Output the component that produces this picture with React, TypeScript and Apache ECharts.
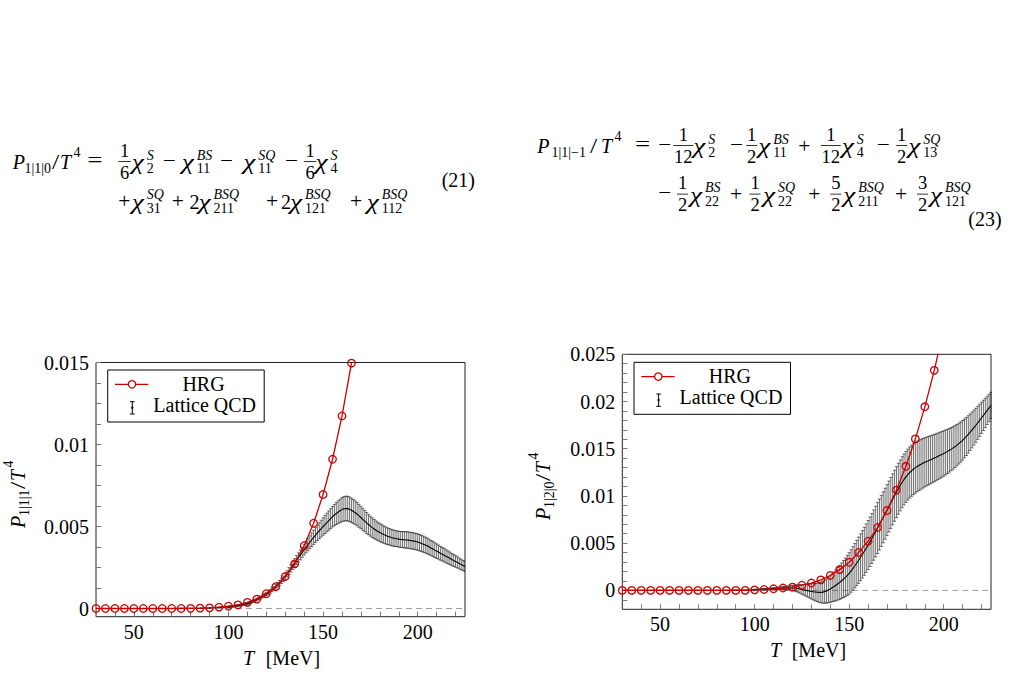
import React, { useEffect, useRef } from 'react';
import * as echarts from 'echarts';

// ---------- data (values of P/T^4 in units of 1e-3) ----------
const tHrgLeft = [30, 35, 40, 45, 50, 55, 60, 65, 70, 75, 80, 85, 90, 95, 100, 105, 110, 115, 120, 125, 130, 135, 140, 145, 150, 155, 160, 165];
const hrgLeft = [0, 0, 0, 0, 0, 0, 0, 0, 0, 0, 0.01, 0.02, 0.04, 0.08, 0.14, 0.22, 0.37, 0.57, 0.9, 1.33, 1.95, 2.72, 3.83, 5.2, 6.95, 9.1, 11.74, 14.96];

const tHrgRight = [30, 35, 40, 45, 50, 55, 60, 65, 70, 75, 80, 85, 90, 95, 100, 105, 110, 115, 120, 125, 130, 135, 140, 145, 150, 155, 160, 165, 170, 175, 180, 185, 190, 195, 200];
const hrgRight = [0, 0, 0, 0, 0, 0, 0, 0, 0, 0, 0, 0, 0, 0, 0.06, 0.1, 0.17, 0.25, 0.35, 0.55, 0.78, 1.12, 1.58, 2.2, 2.98, 4.02, 5.21, 6.66, 8.46, 10.62, 13.14, 16.04, 19.44, 23.3, 27.7];

const tLatticeLow = [30, 35, 40, 45, 50, 55, 60, 65, 70, 75, 80, 85, 90, 95];
const latticeLowLeft = [0, 0, 0, 0, 0, 0, 0, 0, 0, 0.01, 0.01, 0.02, 0.04, 0.07];
const latticeLowRight = [0, 0, 0, 0, 0, 0, 0, 0, 0, 0, 0, 0.01, 0.03, 0.05];

const tLattice = [100, 101, 102, 103, 104, 105, 106, 107, 108, 109, 110, 111, 112, 113, 114, 115, 116, 117, 118, 119, 120, 121, 122, 123, 124, 125, 126, 127, 128, 129, 130, 131, 132, 133, 134, 135, 136, 137, 138, 139, 140, 141, 142, 143, 144, 145, 146, 147, 148, 149, 150, 151, 152, 153, 154, 155, 156, 157, 158, 159, 160, 161, 162, 163, 164, 165, 166, 167, 168, 169, 170, 171, 172, 173, 174, 175, 176, 177, 178, 179, 180, 181, 182, 183, 184, 185, 186, 187, 188, 189, 190, 191, 192, 193, 194, 195, 196, 197, 198, 199, 200, 201, 202, 203, 204, 205, 206, 207, 208, 209, 210, 211, 212, 213, 214, 215, 216, 217, 218, 219, 220, 221, 222, 223, 224, 225];

const latticeLeft = [
  0.10, 0.11, 0.12, 0.14, 0.16, 0.18, 0.20, 0.22, 0.25, 0.27,
  0.30, 0.34, 0.39, 0.44, 0.49, 0.55, 0.61, 0.67, 0.74, 0.81,
  0.88, 0.96, 1.05, 1.14, 1.23, 1.33, 1.44, 1.56, 1.68, 1.81,
  1.94, 2.11, 2.28, 2.45, 2.62, 2.79, 2.95, 3.11, 3.27, 3.43,
  3.59, 3.74, 3.89, 4.04, 4.19, 4.34, 4.48, 4.61, 4.74, 4.87,
  5.00, 5.12, 5.24, 5.36, 5.48, 5.60, 5.70, 5.79, 5.88, 5.96,
  6.03, 6.08, 6.10, 6.09, 6.05, 5.99, 5.92, 5.84, 5.75, 5.65,
  5.55, 5.44, 5.33, 5.22, 5.12, 5.02, 4.93, 4.85, 4.77, 4.70,
  4.63, 4.57, 4.51, 4.46, 4.41, 4.37, 4.33, 4.30, 4.27, 4.25,
  4.23, 4.21, 4.20, 4.19, 4.18, 4.17, 4.15, 4.13, 4.11, 4.08,
  4.05, 4.01, 3.97, 3.92, 3.87, 3.82, 3.76, 3.69, 3.63, 3.56,
  3.50, 3.44, 3.37, 3.31, 3.25, 3.18, 3.12, 3.06, 2.99, 2.93,
  2.87, 2.81, 2.74, 2.68, 2.62, 2.56,
];
const errLeft = [
  0.04, 0.04, 0.04, 0.04, 0.05, 0.05, 0.05, 0.05, 0.05, 0.06,
  0.06, 0.06, 0.07, 0.07, 0.08, 0.08, 0.08, 0.09, 0.09, 0.10,
  0.10, 0.11, 0.11, 0.12, 0.12, 0.13, 0.14, 0.15, 0.16, 0.17,
  0.18, 0.19, 0.21, 0.22, 0.24, 0.25, 0.27, 0.28, 0.30, 0.31,
  0.33, 0.35, 0.37, 0.39, 0.41, 0.43, 0.45, 0.47, 0.49, 0.51,
  0.53, 0.55, 0.57, 0.59, 0.61, 0.63, 0.65, 0.67, 0.69, 0.71,
  0.73, 0.74, 0.75, 0.75, 0.75, 0.74, 0.73, 0.72, 0.71, 0.70,
  0.68, 0.67, 0.65, 0.64, 0.62, 0.61, 0.60, 0.58, 0.57, 0.56,
  0.55, 0.54, 0.53, 0.52, 0.51, 0.50, 0.50, 0.49, 0.49, 0.48,
  0.48, 0.48, 0.49, 0.49, 0.50, 0.50, 0.50, 0.50, 0.50, 0.50,
  0.50, 0.50, 0.49, 0.49, 0.48, 0.48, 0.47, 0.46, 0.46, 0.45,
  0.44, 0.43, 0.42, 0.41, 0.41, 0.40, 0.39, 0.38, 0.37, 0.36,
  0.35, 0.34, 0.33, 0.32, 0.31, 0.30,
];
const latticeRight = [
  0.08, 0.09, 0.09, 0.10, 0.11, 0.12, 0.13, 0.14, 0.15, 0.17,
  0.18, 0.19, 0.21, 0.22, 0.23, 0.24, 0.25, 0.26, 0.26, 0.26,
  0.26, 0.25, 0.23, 0.20, 0.15, 0.10, 0.06, 0.02, -0.02, -0.06,
  -0.10, -0.14, -0.17, -0.20, -0.21, -0.21, -0.18, -0.13, -0.06, 0.04,
  0.15, 0.28, 0.41, 0.55, 0.70, 0.85, 1.02, 1.20, 1.39, 1.59,
  1.80, 2.06, 2.33, 2.61, 2.90, 3.20, 3.51, 3.82, 4.14, 4.47,
  4.80, 5.15, 5.50, 5.86, 6.23, 6.60, 6.98, 7.36, 7.74, 8.12,
  8.50, 8.88, 9.26, 9.64, 10.02, 10.40, 10.77, 11.12, 11.45, 11.75,
  12.02, 12.26, 12.48, 12.67, 12.84, 13.00, 13.13, 13.25, 13.36, 13.46,
  13.56, 13.65, 13.74, 13.83, 13.92, 14.01, 14.10, 14.20, 14.30, 14.40,
  14.50, 14.61, 14.72, 14.84, 14.96, 15.09, 15.23, 15.38, 15.54, 15.71,
  15.89, 16.09, 16.30, 16.52, 16.75, 16.99, 17.24, 17.49, 17.75, 18.01,
  18.28, 18.54, 18.80, 19.06, 19.32, 19.58,
];
const errRight = [
  0.05, 0.05, 0.06, 0.06, 0.07, 0.07, 0.08, 0.08, 0.09, 0.09,
  0.10, 0.11, 0.12, 0.13, 0.14, 0.15, 0.17, 0.19, 0.21, 0.23,
  0.25, 0.30, 0.35, 0.40, 0.45, 0.50, 0.56, 0.62, 0.68, 0.74,
  0.80, 0.86, 0.92, 0.98, 1.04, 1.10, 1.16, 1.22, 1.28, 1.34,
  1.40, 1.48, 1.56, 1.64, 1.72, 1.80, 1.88, 1.96, 2.04, 2.12,
  2.20, 2.25, 2.30, 2.35, 2.40, 2.45, 2.48, 2.51, 2.54, 2.57,
  2.60, 2.62, 2.64, 2.66, 2.68, 2.70, 2.70, 2.70, 2.70, 2.70,
  2.70, 2.70, 2.70, 2.70, 2.70, 2.70, 2.70, 2.70, 2.70, 2.70,
  2.70, 2.70, 2.70, 2.70, 2.70, 2.70, 2.68, 2.66, 2.64, 2.62,
  2.60, 2.58, 2.56, 2.54, 2.52, 2.50, 2.48, 2.46, 2.44, 2.42,
  2.40, 2.37, 2.34, 2.31, 2.28, 2.25, 2.22, 2.19, 2.16, 2.13,
  2.10, 2.06, 2.02, 1.98, 1.94, 1.90, 1.85, 1.80, 1.75, 1.70,
  1.65, 1.60, 1.55, 1.50, 1.45, 1.40,
];

// ---------- ticks ----------
const xTicks = [40, 50, 60, 70, 80, 90, 100, 110, 120, 130, 140, 150, 160, 170, 180, 190, 200, 210, 220];
const xLabels = [50, 100, 150, 200];
const yTicksLeft = [0, 0.00125, 0.0025, 0.00375, 0.005, 0.00625, 0.0075, 0.00875, 0.01, 0.01125, 0.0125, 0.01375, 0.015];
const yLabelsLeft = [0, 0.005, 0.01, 0.015];
const yTicksRight = [-0.001, 0, 0.001, 0.002, 0.003, 0.004, 0.005, 0.006, 0.007, 0.008, 0.009, 0.01, 0.011, 0.012, 0.013, 0.014, 0.015, 0.016, 0.017, 0.018, 0.019, 0.02, 0.021, 0.022, 0.023, 0.024, 0.025];
const yLabelsRight = [0, 0.005, 0.01, 0.015, 0.02, 0.025];

// ---------- styling ----------
const RED = '#cc0000';
const FONT = 'Liberation Serif';
const K = 0.34;
const SCALE = 1e-3;

const pairs = (xs: number[], ys: number[]) => xs.map((x, i) => [x, ys[i] * SCALE]);
const triples = (xs: number[], ys: number[], es: number[]) => xs.map((x, i) => [x, ys[i] * SCALE, es[i] * SCALE]);

function tx(x: number, base: number, s: string, size = 20, italic = false, align: string = 'left', sx = 1): any {
  return {
    type: 'text', x, y: base - K * size, z: 100, scaleX: sx,
    style: {
      text: s, fontFamily: FONT, fontSize: size, fontStyle: italic ? 'italic' : 'normal', fill: '#000',
      align, verticalAlign: 'middle',
    },
  };
}
// math operators: slightly wider than the text font's glyphs
const op = (x: number, base: number, s: string) =>
  tx(x, base - (s === '+' ? 0 : 2), s, 20, false, 'left', s === '=' ? 1.35 : s === '−' ? 1.15 : 1.08);
const CHI_OFF = 15;
function chi(x: number, base: number, sub: string, sup: string): any[] {
  return [tx(x, base, 'χ', 21, true, 'left', 1.3), tx(x + CHI_OFF, base - 9, sup, 14, true), tx(x + CHI_OFF, base + 4.5, sub, 14)];
}
function frac(cx: number, base: number, num: string, den: string, w: number): any[] {
  return [
    tx(cx, base - 12, num, 18.5, false, 'center'),
    tx(cx, base + 10, den, 18.5, false, 'center'),
    { type: 'rect', z: 100, shape: { x: cx - w / 2, y: base - 7.8, width: w, height: 0.8 }, style: { fill: '#000' } },
  ];
}
function pBlock(x: number, base: number, sub: string, subX: number, slashX: number, tX: number): any[] {
  return [
    tx(x, base, 'P', 20, true), tx(subX, base + 4.5, sub, 14), tx(slashX, base, '/', 20, false, 'left', 1.3),
    tx(tX, base, 'T', 20, true), tx(tX + 13.5, base - 12, '4', 14),
  ];
}
function legend(ox: number, oy: number): any[] {
  const ebStyle = { stroke: '#000', lineWidth: 1 };
  return [
    { type: 'rect', z: 99, shape: { x: ox, y: oy, width: 156.5, height: 52 }, style: { fill: '#fff', stroke: '#000', lineWidth: 1 } },
    { type: 'line', z: 100, shape: { x1: ox + 7.3, y1: oy + 14.3, x2: ox + 40.6, y2: oy + 14.3 }, style: { stroke: RED, lineWidth: 1.3 } },
    { type: 'circle', z: 101, shape: { cx: ox + 24.3, cy: oy + 14.3, r: 3.7 }, style: { fill: '#fff', stroke: RED, lineWidth: 1.3 } },
    tx(ox + 95.8, oy + 20.7, 'HRG', 20, false, 'center'),
    { type: 'line', z: 100, shape: { x1: ox + 24.6, y1: oy + 31.7, x2: ox + 24.6, y2: oy + 44 }, style: ebStyle },
    { type: 'line', z: 100, shape: { x1: ox + 22.3, y1: oy + 31.7, x2: ox + 26.9, y2: oy + 31.7 }, style: ebStyle },
    { type: 'line', z: 100, shape: { x1: ox + 22.3, y1: oy + 44, x2: ox + 26.9, y2: oy + 44 }, style: ebStyle },
    { type: 'circle', z: 101, shape: { cx: ox + 24.6, cy: oy + 37.8, r: 1.2 }, style: { fill: '#000' } },
    tx(ox + 45.6, oy + 41.7, 'Lattice QCD'),
  ];
}

function buildGraphic(): any[] {
  const els: any[] = [];
  const add = (...a: any[]) => { a.forEach((e) => (Array.isArray(e) ? els.push(...e) : els.push(e))); };

  // equation (21)
  const a1 = 169, a2 = 208.5;
  add(pBlock(12.7, a1, '1|1|0', 24.5, 52, 60));
  add(op(87.3, a1, '='));
  add(frac(124.5, a1, '1', '6', 12.5), chi(131.7, a1, '2', 'S'));
  add(op(162.7, a1, '−'), chi(181.7, a1, '11', 'BS'));
  add(op(220, a1, '−'), chi(243.3, a1, '11', 'SQ'));
  add(op(285, a1, '−'), frac(310, a1, '1', '6', 12.5), chi(315.5, a1, '4', 'S'));
  add(op(118.3, a2, '+'), chi(131.7, a2, '31', 'SQ'));
  add(op(171.7, a2, '+'), tx(189.5, a2, '2'), chi(198.5, a2, '211', 'BSQ'));
  add(op(266, a2, '+'), tx(281, a2, '2'), chi(290, a2, '121', 'BSQ'));
  add(op(350, a2, '+'), chi(366.7, a2, '112', 'BSQ'));
  add(tx(441.7, 187, '(21)'));

  // equation (23)
  const b1 = 153, b2 = 201.5;
  add(pBlock(537.3, b1, '1|1|−1', 551.5, 590, 601));
  add(op(635, b1, '='), op(658.3, b1, '−'), frac(683.3, b1, '1', '12', 20), chi(693.3, b1, '2', 'S'));
  add(op(730, b1, '−'), frac(751.7, b1, '1', '2', 11), chi(758.3, b1, '11', 'BS'));
  add(op(798.3, b1, '+'), frac(830.8, b1, '1', '12', 20), chi(841.7, b1, '4', 'S'));
  add(op(876.7, b1, '−'), frac(901.7, b1, '1', '2', 11), chi(908.3, b1, '13', 'SQ'));
  add(op(658.3, b2, '−'), frac(682.5, b2, '1', '2', 11), chi(690, b2, '22', 'BS'));
  add(op(730, b2, '+'), frac(755, b2, '1', '2', 11), chi(763, b2, '22', 'SQ'));
  add(op(808.3, b2, '+'), frac(835.8, b2, '5', '2', 11), chi(843.3, b2, '211', 'BSQ'));
  add(op(895, b2, '+'), frac(922.5, b2, '3', '2', 11), chi(930, b2, '121', 'BSQ'));
  add(tx(968.3, 225.5, '(23)'));

  // legends
  add(legend(107.7, 370), legend(634, 362.3));

  // x-axis titles
  add(tx(243, 665, 'T', 20, true), tx(265.7, 665, '[MeV]'));
  add(tx(770, 656.7, 'T', 20, true), tx(791.7, 656.7, '[MeV]'));

  // y-axis titles (rotated)
  const yTitle = (x: number, y: number, sub: string) => ({
    type: 'group', x, y, rotation: Math.PI / 2, z: 100,
    children: pBlock(0, 0, sub, 12, 39, 47),
  });
  add(yTitle(25, 528, '1|1|1'), yTitle(550, 520, '1|2|0'));
  return els;
}

const fmtTick = (v: number) => String(parseFloat(Number(v).toFixed(5)));

function xAxisFor(gi: number): any {
  return {
    type: 'value', gridIndex: gi, min: 30, max: 225,
    axisLine: { show: false, onZero: false }, splitLine: { show: false },
    axisTick: { show: true, inside: true, length: 5, customValues: xTicks, lineStyle: { color: '#777', width: 1 } },
    axisLabel: { customValues: xLabels, margin: 5, fontFamily: FONT, fontSize: 20, color: '#000', formatter: fmtTick },
  };
}
function yAxisFor(gi: number, min: number, max: number, ticks: number[], labels: number[]): any {
  return {
    type: 'value', gridIndex: gi, min, max,
    axisLine: { show: false, onZero: false }, splitLine: { show: false },
    axisTick: { show: true, inside: true, length: 5, customValues: ticks, lineStyle: { color: '#777', width: 1 } },
    axisLabel: { customValues: labels, margin: 7, fontFamily: FONT, fontSize: 20, color: '#000', formatter: fmtTick },
  };
}

function errorBars(gi: number, data: number[][]): any {
  return {
    type: 'custom', xAxisIndex: gi, yAxisIndex: gi, z: 2, silent: true, clip: true,
    encode: { x: 0, y: 1 },
    data,
    renderItem: (_p: any, api: any) => {
      const x = api.value(0), v = api.value(1), e = api.value(2);
      const top = api.coord([x, v + e]);
      const bot = api.coord([x, v - e]);
      const w = 1.6;
      const style = { stroke: 'rgba(0,0,0,0.75)', lineWidth: 0.75 };
      return {
        type: 'group',
        children: [
          { type: 'line', shape: { x1: top[0], y1: top[1], x2: bot[0], y2: bot[1] }, style },
          { type: 'line', shape: { x1: top[0] - w, y1: top[1], x2: top[0] + w, y2: top[1] }, style },
          { type: 'line', shape: { x1: bot[0] - w, y1: bot[1], x2: bot[0] + w, y2: bot[1] }, style },
        ],
      };
    },
  };
}
function zeroLine(gi: number): any {
  return {
    type: 'line', xAxisIndex: gi, yAxisIndex: gi, z: 1, silent: true, showSymbol: false,
    data: [[30, 0], [225, 0]],
    lineStyle: { color: '#a0a0a0', width: 1, type: [6, 4] },
  };
}
function latticeLine(gi: number, low: number[], fine: number[]): any {
  return {
    type: 'line', xAxisIndex: gi, yAxisIndex: gi, z: 3, silent: true, showSymbol: false,
    data: pairs(tLatticeLow, low).concat(pairs(tLattice, fine)),
    lineStyle: { color: '#000', width: 1.1 },
  };
}
function hrgLine(gi: number, ts: number[], vs: number[]): any {
  return {
    type: 'line', xAxisIndex: gi, yAxisIndex: gi, z: 4, silent: true, clip: true,
    data: pairs(ts, vs),
    symbol: 'circle', symbolSize: 7.5, showSymbol: true,
    itemStyle: { color: 'rgba(0,0,0,0)', borderColor: RED, borderWidth: 1.3 },
    lineStyle: { color: RED, width: 1.3 },
  };
}

function buildOption(): any {
  return {
    animation: false,
    backgroundColor: '#fff',
    textStyle: { fontFamily: FONT },
    grid: [
      { left: 96, top: 362.5, width: 369, height: 254.2, show: true, borderColor: '#222', borderWidth: 1, backgroundColor: 'transparent' },
      { left: 622.3, top: 354.3, width: 368.7, height: 255, show: true, borderColor: '#222', borderWidth: 1, backgroundColor: 'transparent' },
    ],
    xAxis: [xAxisFor(0), xAxisFor(1)],
    yAxis: [
      yAxisFor(0, -0.0005, 0.015, yTicksLeft, yLabelsLeft),
      yAxisFor(1, -0.002, 0.025, yTicksRight, yLabelsRight),
    ],
    series: [
      zeroLine(0),
      errorBars(0, triples(tLattice, latticeLeft, errLeft)),
      latticeLine(0, latticeLowLeft, latticeLeft),
      hrgLine(0, tHrgLeft, hrgLeft),
      zeroLine(1),
      errorBars(1, triples(tLattice, latticeRight, errRight)),
      latticeLine(1, latticeLowRight, latticeRight),
      hrgLine(1, tHrgRight, hrgRight),
    ],
    graphic: { elements: buildGraphic() },
  };
}

export default function App() {
  const ref = useRef<HTMLDivElement>(null);
  useEffect(() => {
    if (!ref.current) return;
    const chart = echarts.init(ref.current, null, { renderer: 'svg', width: 1009, height: 698 });
    chart.setOption(buildOption());
    return () => chart.dispose();
  }, []);
  return <div ref={ref} style={{ position: 'fixed', left: 0, top: 0, width: 1009, height: 698, background: '#fff' }} />;
}
